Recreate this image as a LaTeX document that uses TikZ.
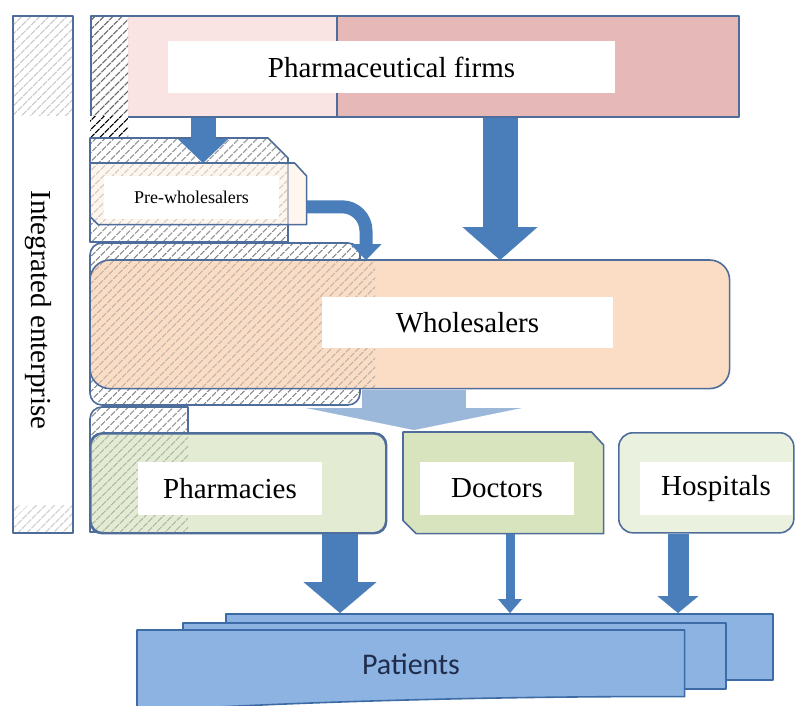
\documentclass[tikz,border=0pt]{standalone}
\usepackage{fontspec}
\setmainfont{Liberation Serif}
\newfontfamily\patientsfont{Carlito}
\usetikzlibrary{arrows.meta,patterns.meta,positioning}
\definecolor{lineblue}{HTML}{4F6D9B}
\definecolor{pinkdk}{HTML}{E6B8B7}
\definecolor{pinklt}{HTML}{F9E3E3}
\definecolor{peach}{HTML}{FBDDC5}
\definecolor{peachlt}{HTML}{FDF0E4}
\definecolor{greenmd}{HTML}{D8E4BD}
\definecolor{greenlt}{HTML}{E3ECD3}
\definecolor{greenxl}{HTML}{EBF1DF}
\definecolor{flowblue}{HTML}{4A7EBB}
\definecolor{flowlt}{HTML}{9BB7DA}
\definecolor{patfill}{HTML}{8DB3E2}
\definecolor{patedge}{HTML}{3D6BA5}
\definecolor{patext}{HTML}{1F2D4D}
\definecolor{hatchc}{HTML}{8A8A8A}

\begin{document}
\begin{tikzpicture}[x=1pt,y=-1pt,line join=round]
  \tikzstyle{box}=[draw=lineblue,line width=1.6pt,inner sep=0pt,anchor=north west]
  \tikzstyle{lbl}=[fill=white,inner sep=0pt,font=\rmfamily\fontsize{29}{34}\selectfont]
  \tikzstyle{hatch}=[pattern={Lines[angle=45,distance=6.5pt,line width=1.2pt]},pattern color=hatchc]
  \tikzstyle{flow}=[flowblue]
  \useasboundingbox (0,0) rectangle (795,705);

  % integrated enterprise
  \fill[white] (12,15) rectangle (72,532);
  \fill[hatch,pattern color=hatchc!45] (12,15) rectangle (72,115);
  \fill[hatch,pattern color=hatchc!45] (12,505) rectangle (72,532);
  \node[box,minimum width=60pt,minimum height=517pt] (ie) at (12,15) {};
  \node[rotate=-90,font=\rmfamily\fontsize{29}{34}\selectfont] (iel) at (38,310) {Integrated enterprise};

  % pharmaceutical firms
  \fill[pinkdk] (90,15) rectangle (738,116);
  \fill[pinklt] (128,15) rectangle (337,116);
  \fill[white] (90,15) rectangle (128,116);
  \fill[hatch,pattern color=black!65] (90,15) rectangle (128,116);
  \draw[lineblue,line width=1.6pt] (337,15) -- (337,116);
  \node[box,minimum width=648pt,minimum height=101pt] (pf) at (90,15) {};
  \node[lbl,minimum width=447pt,minimum height=52pt] (pfl) at (391.5,67) {Pharmaceutical firms};

  % pre-wholesalers
  \fill[white] (90,116) rectangle (128,138);
  \fill[hatch,pattern color=black] (90,116) rectangle (128,138);
  \path[hatch,preaction={fill=white},draw=lineblue,line width=1.6pt]
    (90,138) -- (268,138) -- (288,158) -- (288,242) -- (90,242) -- cycle;
  \node[box,draw=none,minimum width=215pt,minimum height=60pt] (pw) at (90,163) {};
  \path[fill=peachlt,fill opacity=.6,draw=lineblue,line width=1.6pt]
    (pw.north west) -- ([xshift=-12pt]pw.north east) -- ([yshift=-13pt]pw.north east)
    -- (pw.south east) -- ([xshift=8pt]pw.south west) -- ([yshift=8pt]pw.south west) -- cycle;
  \node[lbl,font=\rmfamily\fontsize{18}{21}\selectfont,minimum width=175pt,minimum height=43pt] (pwl) at (191.5,197.5) {Pre-wholesalers};

  % wholesalers
  \path[hatch,preaction={fill=white},draw=lineblue,line width=1.6pt,rounded corners=12pt]
    (90,243) rectangle (360,405);
  \node[box,draw=none,minimum width=638pt,minimum height=127pt] (wh) at (90,260) {};
  \fill[peach,rounded corners=20pt] (wh.north west) rectangle (wh.south east);
  \begin{scope}
    \clip[rounded corners=20pt] (wh.north west) rectangle (wh.south east);
    \fill[hatch,fill opacity=.55] (90,260) rectangle (375,387);
  \end{scope}
  \draw[lineblue,line width=1.6pt,rounded corners=20pt] (wh.north west) rectangle (wh.south east);
  \node[lbl,minimum width=291pt,minimum height=51pt] (whl) at (467.5,322.5) {Wholesalers};

  % pharmacies, doctors, hospitals
  \path[hatch,preaction={fill=white},draw=lineblue,line width=1.6pt]
    (188,532) -- (188,407) -- (102,407) arc[start angle=-90,end angle=-180,radius=12] -- (90,532) -- cycle;
  \node[box,fill=greenlt,rounded corners=12pt,minimum width=295pt,minimum height=99pt] (ph) at (90,433) {};
  \begin{scope}
    \clip[rounded corners=12pt] (ph.north west) rectangle (ph.south east);
    \fill[hatch,fill opacity=.55] (90,433) rectangle (188,532);
  \end{scope}
  \draw[lineblue,line width=1.6pt,rounded corners=12pt] (ph.north west) rectangle (ph.south east);
  \node[lbl,minimum width=184pt,minimum height=53pt] (phl) at (230,488.5) {Pharmacies};

  \node[box,draw=none,minimum width=199pt,minimum height=100pt] (dr) at (403,432) {};
  \path[fill=greenmd,draw=lineblue,line width=1.6pt]
    (dr.north west) -- ([xshift=-12pt]dr.north east) -- ([yshift=-13pt]dr.north east)
    -- (dr.south east) -- ([xshift=13pt]dr.south west) -- ([yshift=13pt]dr.south west) -- cycle;
  \node[lbl,minimum width=154pt,minimum height=53pt] (drl) at (497,488.5) {Doctors};

  \node[box,fill=greenxl,rounded corners=14pt,minimum width=175pt,minimum height=100pt] (hs) at (618,432) {};
  \node[lbl,minimum width=152pt,minimum height=53pt] (hsl) at (716,488.5) {Hospitals};

  % patients
  \node[box,fill=patfill,draw=patedge,minimum width=547pt,minimum height=66pt] (pa3) at (225,613) {};
  \node[box,fill=patfill,draw=patedge,minimum width=543pt,minimum height=66pt] (pa2) at (182,622) {};
  \node[box,draw=none,minimum width=546pt,minimum height=70pt] (pa1) at (137,630) {};
  \path[fill=patfill,draw=patedge,line width=1.6pt]
    (pa1.north west) -- (pa1.north east) -- ([yshift=5pt]pa1.south east)
    .. controls (520,696) and (300,701) .. ([yshift=-10pt]pa1.south west) -- cycle;
  \node[font=\patientsfont\fontsize{30}{36}\selectfont,text=patext] (pat) at (411,664) {Patients};

  % flows
  \coordinate (spread) at (414,430);
  \draw[flowlt,line width=104pt,-{Triangle[length=22pt,width=215pt,line width=0.1pt]}]
    ([xshift=324pt,yshift=-1.5pt]wh.south west) -- (spread);
  \draw[flow,line width=25pt,-{Triangle[length=24pt,width=50pt,line width=0.1pt]}]
    ([xshift=113pt]pf.south west) -- ([xshift=113pt]pw.north west);
  \draw[flow,line width=13pt,rounded corners=24pt,-{Triangle[length=16pt,width=31pt,line width=0.1pt]}]
    ([yshift=-13pt]pw.east) -| ([xshift=276pt]wh.north west);
  \draw[flow,line width=35pt,-{Triangle[length=33pt,width=75pt,line width=0.1pt]}]
    ([xshift=410pt]pf.south west) -- ([xshift=410pt]wh.north west);
  \draw[flow,line width=36pt,-{Triangle[length=31pt,width=73pt,line width=0.1pt]}]
    ([xshift=250pt]ph.south west) -- ([xshift=115pt]pa3.north west);
  \draw[flow,line width=9pt,-{Triangle[length=14pt,width=24pt,line width=0.1pt]}]
    ([xshift=107pt]dr.south west) -- ([xshift=285pt]pa3.north west);
  \draw[flow,line width=21pt,-{Triangle[length=17pt,width=41pt,line width=0.1pt]}]
    ([xshift=60pt]hs.south west) -- ([xshift=453pt]pa3.north west);
\end{tikzpicture}
\end{document}
